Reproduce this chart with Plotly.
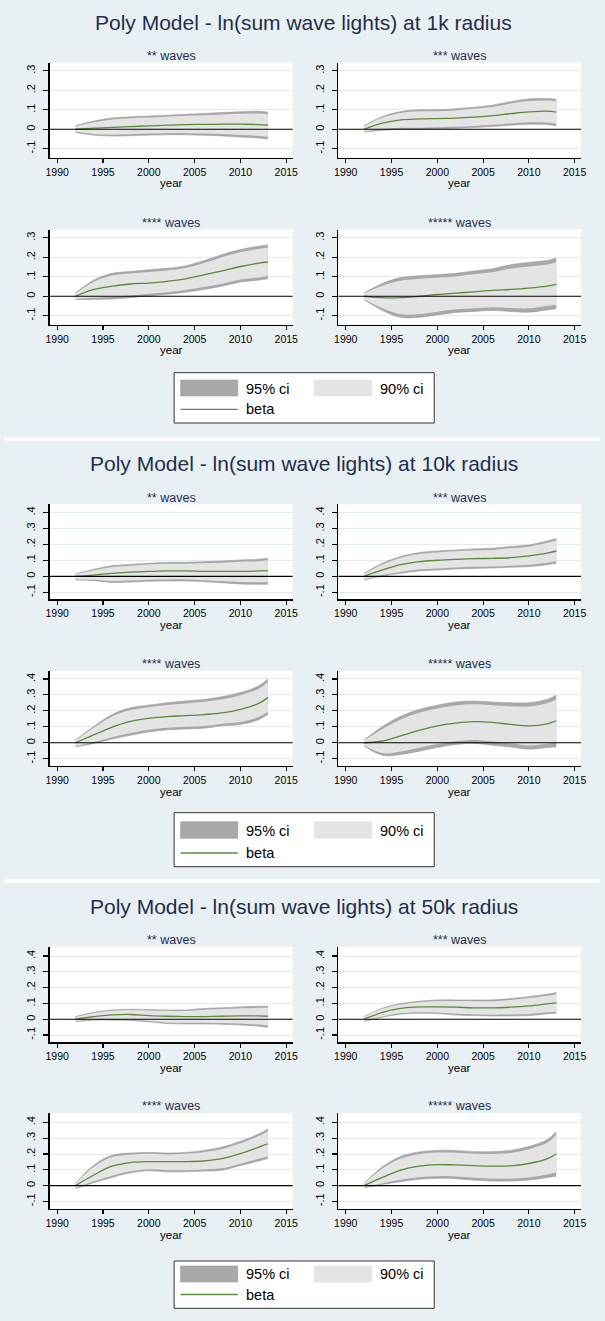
import plotly.graph_objects as go

W, H = 605, 1321
FONT = "Liberation Sans, Arial, Helvetica, sans-serif"
NAVY = "#1f2d4f"
BG = "#e9f0f3"
GRID = "#e3ebee"
C95 = "#a9a9a9"
C95_EDGE = "#9a9a9a"
C90 = "#e4e4e4"
CBETA = "#5a8a3c"

# ---------------- data ----------------
years = [1992, 1994, 1996, 1998, 2000, 2002, 2004, 2006, 2008, 2010, 2012, 2013]
x_ticks = [1990, 1995, 2000, 2005, 2010, 2015]
y_ticks_1k = [-0.1, 0, 0.1, 0.2, 0.3]
y_ticklabels_1k = ["-.1", "0", ".1", ".2", ".3"]
y_ticks_wide = [-0.1, 0, 0.1, 0.2, 0.3, 0.4]
y_ticklabels_wide = ["-.1", "0", ".1", ".2", ".3", ".4"]
radius_titles = [
    "Poly Model - ln(sum wave lights) at 1k radius",
    "Poly Model - ln(sum wave lights) at 10k radius",
    "Poly Model - ln(sum wave lights) at 50k radius",
]
wave_titles = ["** waves", "*** waves", "**** waves", "***** waves"]
legend_labels = ["95% ci", "90% ci", "beta"]
x_title = "year"

# 1k radius
beta_1k_w2 = [0.000, 0.006, 0.010, 0.014, 0.017, 0.021, 0.024, 0.025, 0.026, 0.026, 0.024, 0.022]
lo95_1k_w2 = [-0.016, -0.030, -0.035, -0.033, -0.030, -0.028, -0.028, -0.031, -0.034, -0.040, -0.045, -0.050]
hi95_1k_w2 = [0.018, 0.042, 0.058, 0.064, 0.068, 0.072, 0.077, 0.081, 0.086, 0.090, 0.092, 0.088]
lo90_1k_w2 = [-0.013, -0.024, -0.028, -0.025, -0.022, -0.020, -0.020, -0.022, -0.024, -0.029, -0.034, -0.038]
hi90_1k_w2 = [0.015, 0.036, 0.050, 0.056, 0.060, 0.064, 0.069, 0.072, 0.076, 0.080, 0.081, 0.077]

beta_1k_w3 = [0.000, 0.031, 0.048, 0.053, 0.055, 0.057, 0.062, 0.070, 0.080, 0.089, 0.093, 0.088]
lo95_1k_w3 = [-0.014, -0.005, 0.000, 0.000, 0.003, 0.005, 0.009, 0.014, 0.021, 0.026, 0.024, 0.017]
hi95_1k_w3 = [0.019, 0.065, 0.091, 0.100, 0.100, 0.105, 0.113, 0.124, 0.142, 0.156, 0.158, 0.154]
lo90_1k_w3 = [-0.012, 0.001, 0.008, 0.008, 0.011, 0.013, 0.017, 0.023, 0.030, 0.036, 0.035, 0.028]
hi90_1k_w3 = [0.016, 0.060, 0.084, 0.092, 0.093, 0.097, 0.105, 0.115, 0.132, 0.145, 0.148, 0.143]

beta_1k_w4 = [0.000, 0.035, 0.052, 0.063, 0.068, 0.077, 0.089, 0.110, 0.130, 0.153, 0.170, 0.176]
lo95_1k_w4 = [-0.017, -0.016, -0.014, -0.007, 0.002, 0.010, 0.021, 0.035, 0.052, 0.073, 0.083, 0.090]
hi95_1k_w4 = [0.017, 0.083, 0.118, 0.127, 0.136, 0.144, 0.156, 0.183, 0.214, 0.240, 0.257, 0.263]
lo90_1k_w4 = [-0.014, -0.008, -0.003, 0.004, 0.013, 0.021, 0.032, 0.047, 0.064, 0.086, 0.097, 0.104]
hi90_1k_w4 = [0.014, 0.075, 0.107, 0.117, 0.125, 0.133, 0.145, 0.171, 0.201, 0.226, 0.243, 0.249]

beta_1k_w5 = [0.000, -0.007, -0.007, 0.000, 0.009, 0.016, 0.023, 0.030, 0.035, 0.042, 0.052, 0.061]
lo95_1k_w5 = [-0.017, -0.073, -0.108, -0.108, -0.096, -0.083, -0.078, -0.073, -0.078, -0.082, -0.070, -0.064]
hi95_1k_w5 = [0.017, 0.066, 0.096, 0.106, 0.111, 0.118, 0.130, 0.141, 0.162, 0.174, 0.184, 0.197]
lo90_1k_w5 = [-0.014, -0.062, -0.092, -0.091, -0.079, -0.067, -0.062, -0.057, -0.060, -0.062, -0.050, -0.044]
hi90_1k_w5 = [0.014, 0.054, 0.080, 0.089, 0.095, 0.102, 0.113, 0.123, 0.142, 0.153, 0.163, 0.175]

# 10k radius
beta_10k_w2 = [0.000, 0.008, 0.019, 0.027, 0.031, 0.034, 0.034, 0.031, 0.031, 0.031, 0.034, 0.036]
lo95_10k_w2 = [-0.023, -0.027, -0.038, -0.036, -0.031, -0.029, -0.029, -0.034, -0.040, -0.048, -0.050, -0.050]
hi95_10k_w2 = [0.015, 0.044, 0.067, 0.075, 0.082, 0.088, 0.088, 0.092, 0.096, 0.103, 0.107, 0.113]
lo90_10k_w2 = [-0.019, -0.021, -0.029, -0.026, -0.021, -0.019, -0.019, -0.024, -0.029, -0.035, -0.037, -0.036]
hi90_10k_w2 = [0.013, 0.038, 0.059, 0.067, 0.074, 0.079, 0.079, 0.082, 0.086, 0.091, 0.095, 0.101]

beta_10k_w3 = [0.000, 0.040, 0.073, 0.092, 0.101, 0.107, 0.111, 0.113, 0.117, 0.128, 0.145, 0.159]
lo95_10k_w3 = [-0.023, 0.002, 0.019, 0.034, 0.040, 0.046, 0.050, 0.052, 0.057, 0.061, 0.073, 0.082]
hi95_10k_w3 = [0.019, 0.082, 0.124, 0.149, 0.159, 0.166, 0.172, 0.176, 0.187, 0.197, 0.222, 0.237]
lo90_10k_w3 = [-0.019, 0.008, 0.028, 0.043, 0.050, 0.056, 0.060, 0.062, 0.067, 0.072, 0.085, 0.094]
hi90_10k_w3 = [0.016, 0.075, 0.116, 0.140, 0.150, 0.157, 0.162, 0.166, 0.176, 0.186, 0.210, 0.225]

beta_10k_w4 = [0.000, 0.049, 0.098, 0.134, 0.153, 0.164, 0.170, 0.177, 0.187, 0.209, 0.247, 0.283]
lo95_10k_w4 = [-0.026, -0.004, 0.023, 0.047, 0.068, 0.081, 0.087, 0.091, 0.106, 0.115, 0.145, 0.177]
hi95_10k_w4 = [0.017, 0.102, 0.177, 0.219, 0.236, 0.251, 0.262, 0.272, 0.289, 0.315, 0.357, 0.400]
lo90_10k_w4 = [-0.022, 0.004, 0.035, 0.061, 0.082, 0.094, 0.100, 0.105, 0.119, 0.130, 0.161, 0.194]
hi90_10k_w4 = [0.014, 0.094, 0.164, 0.205, 0.223, 0.237, 0.247, 0.257, 0.273, 0.298, 0.339, 0.381]

beta_10k_w5 = [0.000, 0.011, 0.043, 0.077, 0.106, 0.123, 0.132, 0.128, 0.115, 0.106, 0.119, 0.138]
lo95_10k_w5 = [-0.021, -0.079, -0.074, -0.053, -0.030, -0.011, -0.004, -0.015, -0.026, -0.040, -0.030, -0.026]
hi95_10k_w5 = [0.017, 0.102, 0.166, 0.209, 0.236, 0.255, 0.262, 0.255, 0.251, 0.251, 0.272, 0.298]
lo90_10k_w5 = [-0.018, -0.065, -0.055, -0.032, -0.008, 0.010, 0.018, 0.008, -0.003, -0.017, -0.006, 0.000]
hi90_10k_w5 = [0.014, 0.087, 0.146, 0.188, 0.215, 0.234, 0.241, 0.235, 0.229, 0.228, 0.248, 0.272]

# 50k radius
beta_50k_w2 = [0.000, 0.017, 0.027, 0.030, 0.023, 0.019, 0.017, 0.017, 0.019, 0.021, 0.021, 0.019]
lo95_50k_w2 = [-0.015, -0.006, -0.006, -0.008, -0.017, -0.027, -0.030, -0.030, -0.032, -0.036, -0.044, -0.051]
hi95_50k_w2 = [0.017, 0.044, 0.059, 0.063, 0.061, 0.059, 0.059, 0.068, 0.072, 0.078, 0.082, 0.082]
lo90_50k_w2 = [-0.013, -0.002, -0.001, -0.002, -0.011, -0.020, -0.022, -0.022, -0.024, -0.027, -0.034, -0.040]
hi90_50k_w2 = [0.014, 0.040, 0.054, 0.058, 0.055, 0.053, 0.052, 0.060, 0.064, 0.069, 0.072, 0.072]

beta_50k_w3 = [0.000, 0.044, 0.068, 0.078, 0.078, 0.076, 0.072, 0.072, 0.076, 0.084, 0.097, 0.103]
lo95_50k_w3 = [-0.015, 0.013, 0.032, 0.038, 0.036, 0.027, 0.023, 0.021, 0.021, 0.023, 0.034, 0.038]
hi95_50k_w3 = [0.017, 0.070, 0.099, 0.114, 0.122, 0.122, 0.122, 0.122, 0.131, 0.143, 0.158, 0.169]
lo90_50k_w3 = [-0.013, 0.018, 0.038, 0.044, 0.043, 0.035, 0.031, 0.029, 0.030, 0.033, 0.044, 0.048]
hi90_50k_w3 = [0.014, 0.066, 0.094, 0.108, 0.115, 0.115, 0.114, 0.114, 0.122, 0.134, 0.148, 0.158]

beta_50k_w4 = [0.000, 0.067, 0.123, 0.146, 0.152, 0.152, 0.152, 0.156, 0.171, 0.202, 0.244, 0.265]
lo95_50k_w4 = [-0.019, 0.019, 0.052, 0.081, 0.094, 0.088, 0.088, 0.092, 0.098, 0.127, 0.156, 0.171]
hi95_50k_w4 = [0.015, 0.129, 0.192, 0.206, 0.210, 0.206, 0.210, 0.223, 0.244, 0.281, 0.327, 0.358]
lo90_50k_w4 = [-0.016, 0.027, 0.063, 0.091, 0.103, 0.098, 0.098, 0.102, 0.110, 0.139, 0.170, 0.186]
hi90_50k_w4 = [0.013, 0.119, 0.181, 0.196, 0.201, 0.197, 0.201, 0.212, 0.232, 0.268, 0.314, 0.343]

beta_50k_w5 = [0.000, 0.052, 0.098, 0.123, 0.133, 0.131, 0.127, 0.123, 0.125, 0.140, 0.169, 0.202]
lo95_50k_w5 = [-0.015, 0.008, 0.025, 0.040, 0.046, 0.044, 0.035, 0.029, 0.029, 0.035, 0.052, 0.060]
hi95_50k_w5 = [0.015, 0.119, 0.185, 0.213, 0.223, 0.223, 0.215, 0.215, 0.223, 0.248, 0.290, 0.342]
lo90_50k_w5 = [-0.013, 0.015, 0.037, 0.053, 0.060, 0.058, 0.050, 0.044, 0.044, 0.052, 0.071, 0.083]
hi90_50k_w5 = [0.013, 0.108, 0.171, 0.199, 0.209, 0.208, 0.201, 0.200, 0.207, 0.231, 0.271, 0.320]

series = [
    [(beta_1k_w2, lo95_1k_w2, hi95_1k_w2, lo90_1k_w2, hi90_1k_w2),
     (beta_1k_w3, lo95_1k_w3, hi95_1k_w3, lo90_1k_w3, hi90_1k_w3),
     (beta_1k_w4, lo95_1k_w4, hi95_1k_w4, lo90_1k_w4, hi90_1k_w4),
     (beta_1k_w5, lo95_1k_w5, hi95_1k_w5, lo90_1k_w5, hi90_1k_w5)],
    [(beta_10k_w2, lo95_10k_w2, hi95_10k_w2, lo90_10k_w2, hi90_10k_w2),
     (beta_10k_w3, lo95_10k_w3, hi95_10k_w3, lo90_10k_w3, hi90_10k_w3),
     (beta_10k_w4, lo95_10k_w4, hi95_10k_w4, lo90_10k_w4, hi90_10k_w4),
     (beta_10k_w5, lo95_10k_w5, hi95_10k_w5, lo90_10k_w5, hi90_10k_w5)],
    [(beta_50k_w2, lo95_50k_w2, hi95_50k_w2, lo90_50k_w2, hi90_50k_w2),
     (beta_50k_w3, lo95_50k_w3, hi95_50k_w3, lo90_50k_w3, hi90_50k_w3),
     (beta_50k_w4, lo95_50k_w4, hi95_50k_w4, lo90_50k_w4, hi90_50k_w4),
     (beta_50k_w5, lo95_50k_w5, hi95_50k_w5, lo90_50k_w5, hi90_50k_w5)],
]

# ---------------- layout geometry (pixels) ----------------
def px(x):
    return x / W


def py(y):
    return 1 - y / H


col_x = [(46.5, 293.0), (339.5, 585.7)]
x_range = [1989.2, 2015.7]
panels = [
    dict(top=0, bot=437.5, title_y=22.7, rows=[(62.5, 157.5), (229.5, 324.5)],
         yrange=[-0.145, 0.343], yt=(y_ticks_1k, y_ticklabels_1k),
         leg=dict(box=(372.7, 423.0), sw=(380.0, 396.0), r1=389.0, r2=409.3)),
    dict(top=441.0, bot=879.0, title_y=463.3, rows=[(504.3, 599.3), (670.7, 765.7)],
         yrange=[-0.144, 0.452], yt=(y_ticks_wide, y_ticklabels_wide),
         leg=dict(box=(812.7, 866.7), sw=(821.7, 838.3), r1=831.0, r2=853.0)),
    dict(top=883.0, bot=1321, title_y=906.0, rows=[(946.7, 1042.3), (1113.1, 1208.7)],
         yrange=[-0.146, 0.459], yt=(y_ticks_wide, y_ticklabels_wide),
         leg=dict(box=(1261.0, 1308.3), sw=(1266.0, 1282.0), r1=1274.0, r2=1294.5)),
]

fig = go.Figure()
layout = dict(
    width=W, height=H,
    margin=dict(l=0, r=0, t=0, b=0),
    paper_bgcolor=BG, plot_bgcolor="white",
    showlegend=False, hovermode=False,
    font=dict(family=FONT, color="black"),
)
shapes = []
annotations = []

# white separators between the three graphs
shapes.append(dict(type="rect", xref="paper", yref="paper", x0=0, x1=1,
                   y0=py(441.0), y1=py(437.5), fillcolor="white", line=dict(width=0), layer="below"))
shapes.append(dict(type="rect", xref="paper", yref="paper", x0=0, x1=1,
                   y0=py(883.0), y1=py(879.0), fillcolor="white", line=dict(width=0), layer="below"))

n = 0
for p, pan in enumerate(panels):
    annotations.append(dict(xref="paper", yref="paper", x=px(304.5), y=py(pan["title_y"]),
                            text=radius_titles[p], showarrow=False, xanchor="center", yanchor="middle",
                            font=dict(size=21, color=NAVY, family=FONT)))
    for s in range(4):
        n += 1
        r, c = divmod(s, 2)
        xa = "x" if n == 1 else f"x{n}"
        ya = "y" if n == 1 else f"y{n}"
        beta, lo95, hi95, lo90, hi90 = series[p][s]
        common = dict(x=years, xaxis=xa, yaxis=ya, mode="lines", hoverinfo="skip", showlegend=False)
        fig.add_trace(go.Scatter(y=lo95, line=dict(width=0.6, color=C95_EDGE, shape="spline"), **common))
        fig.add_trace(go.Scatter(y=hi95, fill="tonexty", fillcolor=C95,
                                 line=dict(width=0.6, color=C95_EDGE, shape="spline"), **common))
        fig.add_trace(go.Scatter(y=lo90, line=dict(width=0, color=C90, shape="spline"), **common))
        fig.add_trace(go.Scatter(y=hi90, fill="tonexty", fillcolor=C90,
                                 line=dict(width=0, color=C90, shape="spline"), **common))
        fig.add_trace(go.Scatter(y=beta, line=dict(width=1.3, color=CBETA, shape="spline"), **common))

        x0, x1 = col_x[c]
        ytop, ybot = pan["rows"][r]
        kx = "xaxis" if n == 1 else f"xaxis{n}"
        ky = "yaxis" if n == 1 else f"yaxis{n}"
        layout[kx] = dict(domain=[px(x0), px(x1)], range=x_range, anchor=ya,
                          tickvals=x_ticks, ticks="outside", ticklen=4, tickwidth=1.1, tickcolor="black",
                          showline=True, linecolor="black", linewidth=1.4, showgrid=False, zeroline=False,
                          tickfont=dict(size=10.5, color="black", family=FONT), fixedrange=True)
        layout[ky] = dict(domain=[py(ybot), py(ytop)], range=pan["yrange"], anchor=xa,
                          tickvals=pan["yt"][0], ticktext=pan["yt"][1], tickangle=-90,
                          ticks="outside", ticklen=5, tickwidth=1.1, tickcolor="black",
                          ticklabelstandoff=4,
                          showline=True, linecolor="black", linewidth=1.4,
                          showgrid=True, gridcolor=GRID, gridwidth=1, zeroline=False,
                          tickfont=dict(size=11, color="black", family=FONT), fixedrange=True)
        # horizontal line at zero
        shapes.append(dict(type="line", xref=f"{xa} domain", yref=ya, x0=0, x1=1, y0=0, y1=0,
                           line=dict(color="black", width=1.1), layer="above"))
        xc = (x0 + x1) / 2
        annotations.append(dict(xref="paper", yref="paper", x=px(xc), y=py(ytop - 6.8),
                                text=wave_titles[s], showarrow=False, xanchor="center", yanchor="middle",
                                font=dict(size=12.5, color=NAVY, family=FONT)))
        annotations.append(dict(xref="paper", yref="paper", x=px(xc), y=py(ybot + 26.0),
                                text=x_title, showarrow=False, xanchor="center", yanchor="middle",
                                font=dict(size=11.5, color="black", family=FONT)))

    # legend (drawn)
    lg = pan["leg"]
    shapes.append(dict(type="rect", xref="paper", yref="paper", x0=px(172.7), x1=px(436.7),
                       y0=py(lg["box"][1]), y1=py(lg["box"][0]), fillcolor="white",
                       line=dict(color="#333333", width=1), layer="below"))
    shapes.append(dict(type="rect", xref="paper", yref="paper", x0=px(179.3), x1=px(237.3),
                       y0=py(lg["sw"][1]), y1=py(lg["sw"][0]), fillcolor=C95,
                       line=dict(color=C95_EDGE, width=0.6)))
    shapes.append(dict(type="rect", xref="paper", yref="paper", x0=px(315.0), x1=px(373.3),
                       y0=py(lg["sw"][1]), y1=py(lg["sw"][0]), fillcolor=C90,
                       line=dict(color=C90, width=0.6)))
    shapes.append(dict(type="line", xref="paper", yref="paper", x0=px(179.3), x1=px(237.3),
                       y0=py(lg["r2"]), y1=py(lg["r2"]), line=dict(color=CBETA, width=1.3)))
    for lx, ly, txt in [(244.0, lg["r1"], legend_labels[0]), (379.7, lg["r1"], legend_labels[1]),
                        (244.0, lg["r2"], legend_labels[2])]:
        annotations.append(dict(xref="paper", yref="paper", x=px(lx), y=py(ly), text=txt,
                                showarrow=False, xanchor="left", yanchor="middle",
                                font=dict(size=14.5, color="black", family=FONT)))

layout["shapes"] = shapes
layout["annotations"] = annotations
fig.update_layout(**layout)
fig.write_html(
    "out.html",
    config={"displayModeBar": False, "staticPlot": True},
    post_script="document.body.style.margin='0px';document.body.style.padding='0px';"
                "document.body.style.overflow='hidden';",
)
